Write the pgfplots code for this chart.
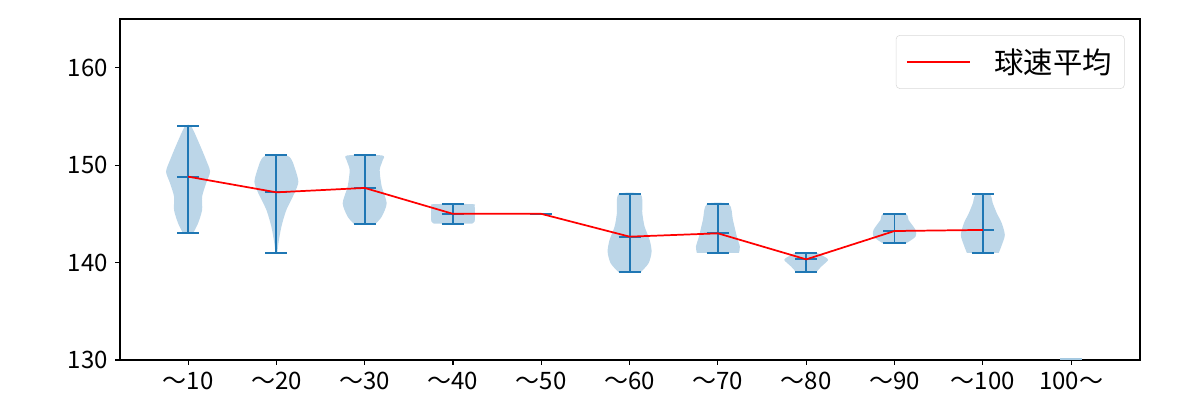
\documentclass[border=0pt]{standalone}
\usepackage{fontspec}
\setmainfont{Noto Sans CJK JP}
\usepackage{pgfplots}
\pgfplotsset{compat=1.18}
\definecolor{vblue}{HTML}{1F77B4}
\definecolor{vfill}{RGB}{188,214,232}
\newcommand{\vcaps}[6]{\addplot[vblue, line width=1.4pt, forget plot, unbounded coords=jump] coordinates {(#1,#4) (#2,#4) (nan,nan) (#1,#5) (#2,#5) (nan,nan) (#1,#6) (#2,#6) (nan,nan) (#3,#4) (#3,#5)};}
\pgfplotsset{violin/.style={fill=vfill, draw=none, forget plot, smooth, tension=0.45}}
\begin{document}
\begin{tikzpicture}
\begin{axis}[
  at={(0pt,0pt)}, anchor=south west,
  scale only axis, width=765pt, height=255.75pt,
  xmin=0.229, xmax=11.78, ymin=130, ymax=165,
  xtick={1,2,3,4,5,6,7,8,9,10,11},
  xticklabels={〜10,〜20,〜30,〜40,〜50,〜60,〜70,〜80,〜90,〜100,100〜},
  ytick={130,140,150,160},
  tick align=outside, xtick pos=bottom, ytick pos=left,
  major tick length=3.65pt,
  every tick/.style={black, line width=0.83pt},
  axis line style={line width=0.83pt},
  tick label style={font=\fontsize{18}{20}\selectfont},
  xticklabel style={yshift=-1.5pt},
  yticklabel style={xshift=-2pt},
  /pgf/number format/assume math mode=true,
  legend style={at={(0.985,0.953)}, anchor=north east, draw=black!15, rounded corners=3pt,
    font=\fontsize{22}{24}\selectfont, inner xsep=7.5pt, inner ysep=8pt,
    /tikz/every odd column/.append style={column sep=16pt}},
  legend image code/.code={\draw[#1] (0pt,0pt) -- (47pt,0pt);},
  legend cell align=left,
]
% violin bodies
\addplot[violin] coordinates {(1.057,143) (1.113,144.03) (1.159,145.4) (1.159,146.77) (1.204,148.14) (1.249,149.33) (1.204,150.53) (1.125,152.25) (1.034,154) (0.966,154) (0.875,152.25) (0.796,150.53) (0.751,149.33) (0.796,148.14) (0.841,146.77) (0.841,145.4) (0.887,144.03) (0.943,143)} -- cycle;
\addplot[violin] coordinates {(2.011,141) (2.023,141.98) (2.057,143.69) (2.113,145.4) (2.204,147.11) (2.249,148.31) (2.204,149.84) (2.170,150.6) (2.113,151) (1.887,151) (1.830,150.6) (1.796,149.84) (1.751,148.31) (1.796,147.11) (1.887,145.4) (1.943,143.69) (1.977,141.98) (1.989,141)} -- cycle;
\addplot[violin] coordinates {(3.125,144) (3.193,144.71) (3.249,146.09) (3.193,147.8) (3.170,149.51) (3.204,150.5) (3.195,151) (2.805,151) (2.796,150.5) (2.830,149.51) (2.807,147.8) (2.751,146.09) (2.807,144.71) (2.875,144)} -- cycle;
\addplot[violin] coordinates {(4.215,144) (4.244,144.2) (4.249,145) (4.244,145.8) (4.215,146) (3.785,146) (3.756,145.8) (3.751,145) (3.756,144.2) (3.785,144)} -- cycle;
\addplot[violin] coordinates {(6.125,139) (6.215,139.93) (6.249,141.12) (6.227,142.32) (6.170,143.69) (6.144,145.06) (6.125,147) (5.875,147) (5.856,145.06) (5.830,143.69) (5.773,142.32) (5.751,141.12) (5.785,139.93) (5.875,139)} -- cycle;
\addplot[violin] coordinates {(7.238,141) (7.249,141.63) (7.215,142.66) (7.170,144.37) (7.125,146) (6.875,146) (6.830,144.37) (6.785,142.66) (6.751,141.63) (6.762,141)} -- cycle;
\addplot[violin] coordinates {(8.113,139) (8.170,139.58) (8.249,140.27) (8.204,140.61) (8.113,141) (7.887,141) (7.796,140.61) (7.751,140.27) (7.830,139.58) (7.887,139)} -- cycle;
\addplot[violin] coordinates {(9.136,142) (9.238,142.66) (9.238,143.35) (9.159,144.37) (9.125,145) (8.875,145) (8.841,144.37) (8.762,143.35) (8.762,142.66) (8.864,142)} -- cycle;
\addplot[violin] coordinates {(10.181,141) (10.215,141.8) (10.249,142.83) (10.215,144.03) (10.159,145.06) (10.113,146.09) (10.079,147) (9.921,147) (9.887,146.09) (9.841,145.06) (9.785,144.03) (9.751,142.83) (9.785,141.8) (9.819,141)} -- cycle;
% caps: left, right, centre, min, max, mean
\vcaps{0.875}{1.125}{1}{143}{154}{148.82}
\vcaps{1.875}{2.125}{2}{141}{151}{147.21}
\vcaps{2.875}{3.125}{3}{144}{151}{147.66}
\vcaps{3.875}{4.125}{4}{144}{146}{145}
\vcaps{4.875}{5.125}{5}{145}{145}{145}
\vcaps{5.875}{6.125}{6}{139}{147}{142.66}
\vcaps{6.875}{7.125}{7}{141}{146}{143.0}
\vcaps{7.875}{8.125}{8}{139}{141}{140.33}
\vcaps{8.875}{9.125}{9}{142}{145}{143.24}
\vcaps{9.875}{10.125}{10}{141}{147}{143.35}
\addplot[vblue!40, line width=1.4pt, forget plot] coordinates {(10.875,130.1) (11.125,130.1)};
% mean line
\addplot[red, line width=1.3pt] coordinates {(1,148.82) (2,147.21) (3,147.66) (4,145) (5,145) (6,142.66) (7,143.0) (8,140.33) (9,143.24) (10,143.35)};
\addlegendentry{球速平均}
\end{axis}
\pgfresetboundingbox
\path (-90pt,-30pt) rectangle (810pt,270pt);
\end{tikzpicture}
\end{document}
